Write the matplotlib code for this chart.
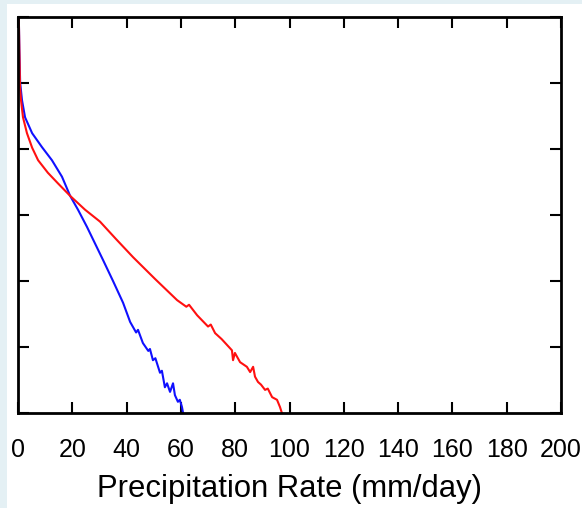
import matplotlib
matplotlib.use('Agg')

import matplotlib.pyplot as plt
from matplotlib.patches import Rectangle

# precipitation rate (mm/day) and log10 of frequency
blue_x = [0.3, 0.5, 0.8, 1.47, 2.6, 5.2, 8.8, 12.5, 16.2, 19.2, 22.1, 25.4,
          31.3, 35.0, 38.7, 41.3, 43.5, 44.2, 46.0, 48.0, 48.6, 49.7, 50.6, 52.3,
          53.0, 54.1, 54.9, 56.0, 57.1, 57.8, 58.9, 59.6, 60.4, 60.8]
blue_y = [0, -0.5, -1.0, -1.26, -1.52, -1.76, -1.97, -2.17, -2.42, -2.71, -2.92, -3.18,
          -3.68, -4.0, -4.33, -4.62, -4.78, -4.74, -4.94, -5.06, -5.03,
          -5.20, -5.17, -5.39, -5.36, -5.61, -5.55, -5.68, -5.55, -5.73, -5.83, -5.80,
          -5.91, -6.0]

red_x = [0.3, 0.5, 0.74, 1.1, 1.84, 3.3, 5.2, 7.4, 11.0, 14.7, 19.2, 24.7, 30.2,
         36.0, 42.4, 50.5, 58.6, 62.0, 63.0, 66.0, 70.0, 71.0, 72.6, 75.0, 78.8,
         79.2, 79.9, 81.8, 84.3, 85.5, 86.6, 87.3, 88.4, 89.5, 91.0, 92.0, 93.6,
         95.4, 96.5, 97.2]
red_y = [0, -0.5, -1.06, -1.26, -1.52, -1.76, -1.98, -2.17, -2.36, -2.52, -2.71, -2.92,
         -3.1, -3.36, -3.64, -3.97, -4.29, -4.39, -4.36, -4.52, -4.69, -4.66,
         -4.79, -4.88, -5.05, -5.20, -5.09, -5.23, -5.30, -5.38, -5.30, -5.45, -5.53,
         -5.57, -5.65, -5.63, -5.76, -5.80, -5.91, -6.0]

x_ticks = list(range(0, 201, 20))
y_ticks = [-6, -5, -4, -3, -2, -1, 0]

fig = plt.figure(figsize=(5.82, 5.08), dpi=100, facecolor='#e4f0f4')
fig.patches.append(Rectangle((7 / 582, 0), 1, 1 - 4 / 508, transform=fig.transFigure,
                             facecolor='white', edgecolor='none', zorder=-10))

ax = fig.add_axes([18 / 582, 1 - 413 / 508, (561 - 18) / 582, (413 - 17) / 508])
ax.plot(blue_x, blue_y, color='#1010ff', lw=1.5)
ax.plot(red_x, red_y, color='#ff1010', lw=1.5)

ax.set_xlim(0, 200)
ax.set_ylim(-6, 0)
ax.set_xticks(x_ticks)
ax.set_yticks(y_ticks)
ax.set_yticklabels([])
ax.tick_params(direction='in', length=8, width=1.5, top=True, right=True,
               labelsize=18, pad=18)
for lbl in ax.get_xticklabels():
    lbl.set_family('Liberation Sans')
for s in ax.spines.values():
    s.set_linewidth(2)
ax.set_xlabel('Precipitation Rate (mm/day)', fontsize=22.3, family='Liberation Sans',
              labelpad=9)

fig.savefig('out.png', dpi=100, facecolor=fig.get_facecolor())
